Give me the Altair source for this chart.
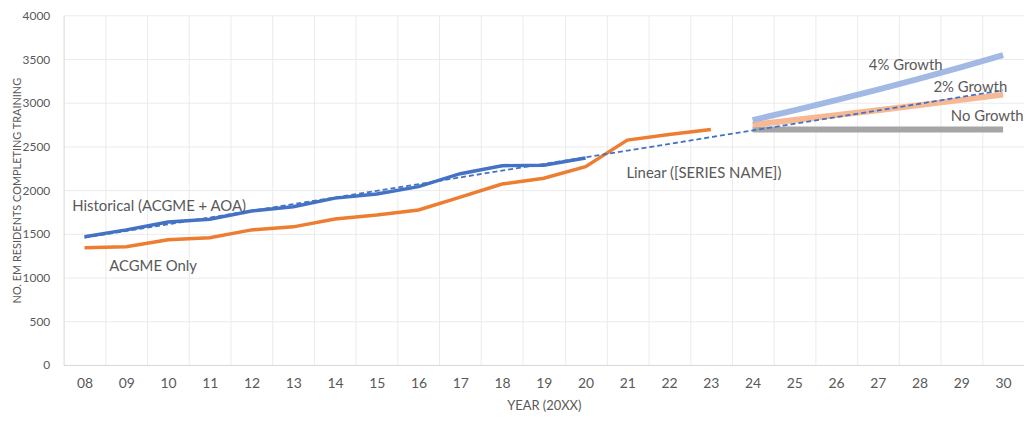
import altair as alt
import pandas as pd

years = ["08", "09", "10", "11", "12", "13", "14", "15", "16", "17", "18",
         "19", "20", "21", "22", "23", "24", "25", "26", "27", "28", "29", "30"]

historical = [1466, 1545, 1636, 1668, 1761, 1810, 1909, 1955, 2040, 2188, 2280, 2284, 2368]
acgme_only = [1341, 1352, 1432, 1455, 1545, 1580, 1670, 1716, 1773, 1920, 2070, 2136, 2268,
              2572, 2636, 2693]
proj_years = ["24", "25", "26", "27", "28", "29", "30"]
no_growth = [2693, 2693, 2693, 2693, 2693, 2693, 2693]
growth_2 = [2747, 2802, 2858, 2915, 2973, 3033, 3093]
growth_4 = [2801, 2913, 3029, 3150, 3276, 3407, 3544]

ann_text = ["Historical (ACGME + AOA)", "ACGME Only", "Linear ([SERIES NAME])",
            "4% Growth", "2% Growth", "No Growth"]
ann_year = ["10", "10", "23", "28", "29", "30"]
ann_value = [1818, 1136, 2193, 3432, 3182, 2852]
ann_dx = [-9, -15, -7, -14, 9, -16]

FONT = "Lato"
TXT = "#595959"
W = 967
H = 352
STEP = W / len(years)

hist_df = pd.DataFrame({"year": years[:len(historical)], "v": historical,
                        "idx": list(range(len(historical)))})
acg_df = pd.DataFrame({"year": years[:len(acgme_only)], "v": acgme_only})
proj_df = pd.DataFrame({"year": proj_years, "none": no_growth, "g2": growth_2, "g4": growth_4})
ann_df = pd.DataFrame({"t": ann_text, "year": ann_year, "v": ann_value, "dx": ann_dx})

xaxis = alt.Axis(title="YEAR (20XX)", labelAngle=0, tickBand="extent",
                 grid=True, gridColor="#EBEBEB", ticks=False,
                 domainColor="#D9D9D9", labelColor=TXT, labelFont=FONT,
                 labelFontSize=14, labelPadding=12, titleColor=TXT,
                 titleFont=FONT, titleFontSize=13, titleFontWeight="normal",
                 titlePadding=9)
xsc = alt.Scale(domain=years, paddingInner=0, paddingOuter=0)
ysc = alt.Scale(domain=[0, 4000])
yaxis = alt.Axis(title="NO. EM RESIDENTS COMPLETING TRAINING", values=list(range(0, 4001, 500)),
                 format="d", grid=True, gridColor="#EBEBEB", ticks=False, domain=True,
                 domainColor="#E0E0E0", labelColor=TXT, labelFont=FONT, labelFontSize=12,
                 labelPadding=14, titleColor=TXT, titleFont=FONT, titleFontSize=11,
                 titleFontWeight="normal", titleAngle=-90, titleX=-46, titleY=H / 2,
                 titleAlign="center", titleBaseline="middle")


def xv():
    return alt.X("year:O", scale=xsc, axis=xaxis)


def yv(field="v"):
    return alt.Y(f"{field}:Q", scale=ysc, axis=yaxis)


base_hist = alt.Chart(hist_df)

l_none = alt.Chart(proj_df).mark_line(color="#A5A5A5", strokeWidth=6, strokeCap="butt").encode(
    x=xv(), y=yv("none"))
l_g2 = alt.Chart(proj_df).mark_line(color="#F6B993", strokeWidth=6, strokeCap="butt").encode(
    x=xv(), y=yv("g2"))
l_g4 = alt.Chart(proj_df).mark_line(color="#A2B9E4", strokeWidth=6, strokeCap="butt").encode(
    x=xv(), y=yv("g4"))
l_acg = alt.Chart(acg_df).mark_line(color="#ED7D31", strokeWidth=3.5, strokeCap="butt").encode(
    x=xv(), y=yv())
l_hist = base_hist.mark_line(color="#4472C4", strokeWidth=3.5, strokeCap="butt").encode(
    x=xv(), y=yv())
l_trend = base_hist.transform_regression(
    "idx", "v", method="linear", extent=[0, len(years) - 1]
).transform_calculate(
    year="pad(toString(round(datum.idx) + 8), 2, '0', 'left')"
).mark_line(color="#4472C4", strokeWidth=1.8, strokeDash=[5, 3]).encode(
    x=xv(), y=yv())
ann = alt.Chart(ann_df).transform_calculate(
    off=f"datum.dx + {STEP / 2}"
).mark_text(font=FONT, fontSize=15, color=TXT, align="center", baseline="middle").encode(
    x=xv(), y=yv(), text="t:N", xOffset=alt.XOffset("off:Q", scale=None))

chart = alt.layer(l_none, l_g2, l_g4, l_acg, l_hist, l_trend, ann).properties(
    width=W, height=H,
    autosize=alt.AutoSizeParams(type="none"),
    padding={"left": 56, "top": 6, "right": 0, "bottom": 48},
    background="white",
).configure_view(stroke=None)

chart.save("out.html", embed_options={"renderer": "svg", "actions": False})
